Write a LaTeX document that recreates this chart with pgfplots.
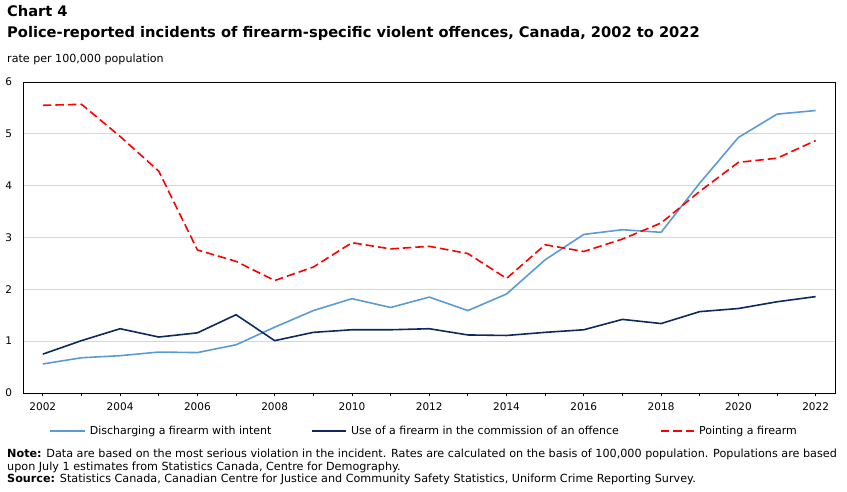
\documentclass[border=0pt]{standalone}
\usepackage{fontspec}
\setmainfont{DejaVu Sans}
\usepackage{pgfplots}
\usepackage{pgfplotstable}
\pgfplotsset{compat=1.18}

\definecolor{discharge}{HTML}{5B9BD5}
\definecolor{usefirearm}{HTML}{0C2A5E}
\definecolor{pointing}{HTML}{FF0000}

% rate per 100,000 population
\pgfplotstableread{
year discharge usefirearm pointing
2002 0.56 0.75 5.55
2003 0.68 1.01 5.57
2004 0.72 1.24 4.95
2005 0.79 1.08 4.28
2006 0.78 1.16 2.76
2007 0.93 1.51 2.54
2008 1.27 1.01 2.17
2009 1.59 1.17 2.43
2010 1.82 1.22 2.90
2011 1.65 1.22 2.78
2012 1.85 1.24 2.83
2013 1.59 1.12 2.69
2014 1.91 1.11 2.21
2015 2.57 1.17 2.86
2016 3.06 1.22 2.73
2017 3.15 1.42 2.97
2018 3.10 1.34 3.28
2019 4.05 1.57 3.89
2020 4.93 1.63 4.45
2021 5.38 1.76 4.53
2022 5.45 1.86 4.87
}\rates

\begin{document}
\begin{tikzpicture}[x=1pt,y=1pt]
\path[use as bounding box] (0,0) rectangle (847,-492);

% titles
\node[anchor=base west, inner sep=0pt] at (7,-17) {\fontsize{14.6}{17}\selectfont\bfseries Chart 4};
\node[anchor=base west, inner sep=0pt] at (7,-37.5) {\fontsize{14.65}{17}\selectfont\bfseries Police-reported incidents of firearm-specific violent offences, Canada, 2002 to 2022};
\node[anchor=base west, inner sep=0pt] at (7,-62.5) {\fontsize{11.1}{13}\selectfont rate per 100,000 population};

\begin{axis}[
  at={(23.5pt,-393pt)}, anchor=south west,
  scale only axis, width=811.5pt, height=311pt,
  xmin=2001.5, xmax=2022.5, ymin=0, ymax=6,
  xtick={2002,2004,...,2022},
  minor xtick={2003,2005,...,2021},
  ytick={0,1,...,6},
  tick pos=left,
  tick align=outside,
  major tick length=3pt, minor tick length=3pt,
  xtick style={black, line width=0.8pt},
  ytick style={draw=none},
  ymajorgrids,
  grid style={color=black!16, line width=0.9pt},
  axis line style={black, line width=1pt},
  tick label style={font=\fontsize{10.5}{12}\selectfont},
  /pgf/number format/assume math mode=true,
  x tick label style={/pgf/number format/1000 sep={}, yshift=-3pt},
  yticklabel style={xshift=-5pt},
  legend columns=-1,
  legend style={at={(axis description cs:0.0318,-0.122)}, anchor=west,
    draw=none, fill=none, inner sep=0pt, outer sep=0pt,
    nodes={inner sep=0pt},
    font=\fontsize{11}{13}\selectfont,
    /tikz/every even column/.append style={column sep=0pt}},
  legend cell align=left,
  legend image code/.code={\draw[#1] (0pt,0pt) -- (34.5pt,0pt);},
]
\addplot[discharge, line width=1.6pt, line join=round] table[x=year, y=discharge] {\rates};
\addlegendentry{\hspace{4.5pt}\makebox[221pt][l]{Discharging a firearm with intent}}
\addplot[usefirearm, line width=1.6pt, line join=round] table[x=year, y=usefirearm] {\rates};
\addlegendentry{\hspace{4pt}\makebox[309pt][l]{Use of a firearm in the commission of an offence}}
\addplot[pointing, line width=1.6pt, dash pattern=on 8.5pt off 4pt, line join=round] table[x=year, y=pointing] {\rates};
\addlegendentry{\hspace{3pt}Pointing a firearm}
\end{axis}

% notes
\node[anchor=base west, inner sep=0pt] at (7,-457.5) {\fontsize{11.2}{13}\selectfont\textbf{Note:} Data are based on the most serious violation in the incident. Rates are calculated on the basis of 100,000 population. Populations are based};
\node[anchor=base west, inner sep=0pt] at (7,-470) {\fontsize{11.2}{13}\selectfont upon July 1 estimates from Statistics Canada, Centre for Demography.};
\node[anchor=base west, inner sep=0pt] at (7,-482.5) {\fontsize{11.2}{13}\selectfont\textbf{Source:} Statistics Canada, Canadian Centre for Justice and Community Safety Statistics, Uniform Crime Reporting Survey.};
\end{tikzpicture}
\end{document}
